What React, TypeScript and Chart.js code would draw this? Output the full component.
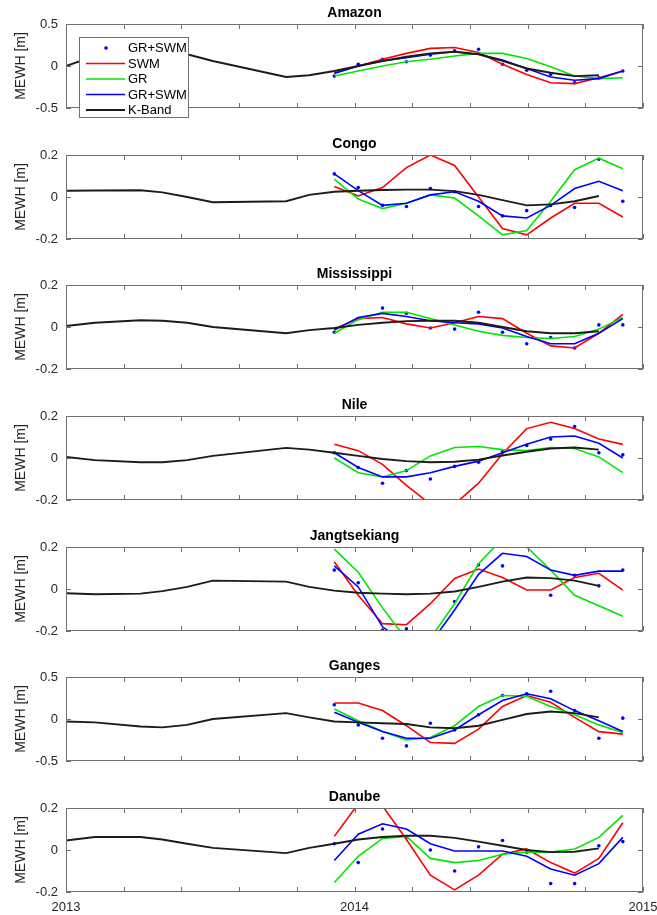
import React, { useEffect, useRef } from 'react';
import { Chart, registerables } from 'chart.js';

Chart.register(...registerables);

// ---------- shared axes data ----------
const T_MONTHLY = [2013.930, 2014.013, 2014.097, 2014.180, 2014.263, 2014.347, 2014.430, 2014.513, 2014.597, 2014.680, 2014.763, 2014.847, 2014.930];
const T_KBAND = [2013.0, 2013.1, 2013.258, 2013.334, 2013.42, 2013.509, 2013.763, 2013.843, 2013.930, 2014.013, 2014.097, 2014.180, 2014.263, 2014.347, 2014.430, 2014.513, 2014.597, 2014.680, 2014.763, 2014.847];
const X_TICKS = [2013, 2013.2, 2013.4, 2013.6, 2013.8, 2014, 2014.2, 2014.4, 2014.6, 2014.8, 2015];
const X_LABELS = [2013, 2014, 2015];
const BASINS = ['Amazon', 'Congo', 'Mississippi', 'Nile', 'Jangtsekiang', 'Ganges', 'Danube'];
const Y_LIMITS = [0.5, 0.2, 0.2, 0.2, 0.2, 0.5, 0.2];
const SERIES_NAMES = ['GR+SWM', 'SWM', 'GR', 'GR+SWM', 'K-Band'];
const Y_TITLE = 'MEWH [m]';

// ---------- Amazon ----------
const AMAZON_DOTS = [-0.12, 0.02, 0.08, 0.05, 0.13, 0.18, 0.2, 0.02, -0.05, -0.1, -0.2, -0.14, -0.06];
const AMAZON_SWM = [-0.08, 0.0, 0.08, 0.15, 0.21, 0.22, 0.16, 0.02, -0.1, -0.2, -0.21, -0.14, -0.06];
const AMAZON_GR = [-0.12, -0.06, 0.0, 0.05, 0.08, 0.12, 0.15, 0.15, 0.09, -0.01, -0.12, -0.15, -0.14];
const AMAZON_GRSWM = [-0.09, 0.0, 0.06, 0.1, 0.14, 0.17, 0.14, 0.07, -0.03, -0.13, -0.17, -0.15, -0.06];
const AMAZON_KBAND = [0.0, 0.12, 0.19, 0.18, 0.14, 0.06, -0.13, -0.11, -0.06, 0.0, 0.06, 0.11, 0.15, 0.17, 0.14, 0.06, -0.03, -0.08, -0.12, -0.11];

// ---------- Congo ----------
const CONGO_DOTS = [0.11, 0.045, -0.04, -0.045, 0.04, 0.025, -0.045, -0.09, -0.065, -0.04, -0.05, 0.18, -0.02];
const CONGO_SWM = [0.05, 0.005, 0.045, 0.14, 0.2, 0.15, 0.0, -0.15, -0.18, -0.1, -0.03, -0.03, -0.095];
const CONGO_GR = [0.085, -0.01, -0.055, -0.03, 0.01, -0.005, -0.09, -0.18, -0.16, -0.02, 0.13, 0.185, 0.135];
const CONGO_GRSWM = [0.11, 0.03, -0.04, -0.03, 0.01, 0.025, -0.02, -0.09, -0.1, -0.04, 0.04, 0.075, 0.03];
const CONGO_KBAND = [0.03, 0.031, 0.032, 0.022, 0.0, -0.025, -0.02, 0.01, 0.025, 0.03, 0.033, 0.035, 0.035, 0.028, 0.01, -0.015, -0.04, -0.035, -0.02, 0.005];

// ---------- Mississippi ----------
const MISSISSIPPI_DOTS = [-0.025, 0.04, 0.09, 0.065, -0.005, -0.01, 0.07, -0.025, -0.08, -0.05, -0.1, 0.01, 0.01];
const MISSISSIPPI_SWM = [-0.01, 0.04, 0.045, 0.015, -0.005, 0.02, 0.05, 0.04, -0.03, -0.09, -0.1, -0.03, 0.06];
const MISSISSIPPI_GR = [-0.03, 0.035, 0.07, 0.07, 0.04, 0.01, -0.02, -0.04, -0.05, -0.055, -0.045, -0.01, 0.045];
const MISSISSIPPI_GRSWM = [-0.015, 0.045, 0.065, 0.05, 0.03, 0.02, 0.015, -0.005, -0.045, -0.08, -0.08, -0.03, 0.04];
const MISSISSIPPI_KBAND = [0.005, 0.02, 0.032, 0.03, 0.02, 0.0, -0.03, -0.015, -0.005, 0.01, 0.02, 0.028, 0.03, 0.03, 0.02, 0.0, -0.02, -0.03, -0.03, -0.02];

// ---------- Nile ----------
const NILE_DOTS = [0.025, -0.045, -0.12, -0.06, -0.1, -0.04, -0.02, 0.03, 0.06, 0.09, 0.15, 0.025, 0.015];
const NILE_SWM = [0.065, 0.035, -0.03, -0.13, -0.22, -0.22, -0.12, 0.02, 0.14, 0.17, 0.14, 0.09, 0.065];
const NILE_GR = [0.0, -0.07, -0.09, -0.06, 0.01, 0.05, 0.055, 0.04, 0.035, 0.05, 0.045, 0.005, -0.07];
const NILE_GRSWM = [0.025, -0.045, -0.09, -0.09, -0.07, -0.04, -0.015, 0.025, 0.065, 0.1, 0.105, 0.07, 0.0];
const NILE_KBAND = [0.005, -0.01, -0.02, -0.02, -0.01, 0.01, 0.048, 0.04, 0.025, 0.01, -0.005, -0.015, -0.02, -0.018, -0.008, 0.012, 0.03, 0.045, 0.05, 0.04];

// ---------- Jangtsekiang ----------
const JANGTSEKIANG_DOTS = [0.09, 0.03, -0.195, -0.19, -0.3, -0.06, 0.115, 0.11, 0.22, -0.03, 0.065, 0.015, 0.09];
const JANGTSEKIANG_SWM = [0.13, -0.03, -0.165, -0.17, -0.07, 0.05, 0.095, 0.055, -0.005, -0.005, 0.055, 0.075, -0.005];
const JANGTSEKIANG_GR = [0.19, 0.08, -0.09, -0.24, -0.235, -0.07, 0.12, 0.24, 0.2, 0.09, -0.03, -0.08, -0.13];
const JANGTSEKIANG_GRSWM = [0.11, 0.01, -0.18, -0.26, -0.26, -0.1, 0.07, 0.17, 0.155, 0.09, 0.065, 0.085, 0.085];
const JANGTSEKIANG_KBAND = [-0.02, -0.025, -0.022, -0.01, 0.01, 0.04, 0.035, 0.01, -0.008, -0.018, -0.022, -0.025, -0.022, -0.012, 0.01, 0.035, 0.055, 0.052, 0.04, 0.015];

// ---------- Ganges ----------
const GANGES_DOTS = [0.17, -0.07, -0.23, -0.32, -0.05, -0.13, 0.05, 0.28, 0.3, 0.33, 0.1, -0.23, 0.01];
const GANGES_SWM = [0.19, 0.19, 0.1, -0.08, -0.28, -0.29, -0.12, 0.15, 0.28, 0.2, 0.02, -0.15, -0.18];
const GANGES_GR = [0.12, -0.02, -0.15, -0.25, -0.22, -0.08, 0.15, 0.28, 0.27, 0.15, 0.05, -0.07, -0.16];
const GANGES_GRSWM = [0.08, -0.04, -0.15, -0.23, -0.23, -0.13, 0.05, 0.22, 0.3, 0.24, 0.1, -0.02, -0.15];
const GANGES_KBAND = [-0.03, -0.04, -0.09, -0.1, -0.07, 0.0, 0.07, 0.02, -0.03, -0.04, -0.05, -0.06, -0.1, -0.11, -0.08, -0.01, 0.06, 0.09, 0.07, 0.02];

// ---------- Danube ----------
const DANUBE_DOTS = [0.03, -0.06, 0.1, 0.06, 0.0, -0.1, 0.015, 0.045, -0.01, -0.16, -0.16, 0.02, 0.04];
const DANUBE_SWM = [0.065, 0.22, 0.21, 0.05, -0.12, -0.19, -0.12, -0.02, 0.005, -0.06, -0.11, -0.04, 0.13];
const DANUBE_GR = [-0.155, -0.03, 0.055, 0.065, -0.04, -0.06, -0.05, -0.02, -0.01, -0.01, 0.005, 0.06, 0.165];
const DANUBE_GRSWM = [-0.05, 0.075, 0.125, 0.1, 0.03, -0.005, -0.005, -0.005, -0.03, -0.09, -0.12, -0.065, 0.06];
const DANUBE_KBAND = [0.045, 0.062, 0.062, 0.05, 0.03, 0.01, -0.015, 0.01, 0.03, 0.05, 0.062, 0.068, 0.068, 0.058, 0.04, 0.02, 0.0, -0.01, -0.008, 0.008];

const PANEL_SERIES = [
  [AMAZON_DOTS, AMAZON_SWM, AMAZON_GR, AMAZON_GRSWM, AMAZON_KBAND],
  [CONGO_DOTS, CONGO_SWM, CONGO_GR, CONGO_GRSWM, CONGO_KBAND],
  [MISSISSIPPI_DOTS, MISSISSIPPI_SWM, MISSISSIPPI_GR, MISSISSIPPI_GRSWM, MISSISSIPPI_KBAND],
  [NILE_DOTS, NILE_SWM, NILE_GR, NILE_GRSWM, NILE_KBAND],
  [JANGTSEKIANG_DOTS, JANGTSEKIANG_SWM, JANGTSEKIANG_GR, JANGTSEKIANG_GRSWM, JANGTSEKIANG_KBAND],
  [GANGES_DOTS, GANGES_SWM, GANGES_GR, GANGES_GRSWM, GANGES_KBAND],
  [DANUBE_DOTS, DANUBE_SWM, DANUBE_GR, DANUBE_GRSWM, DANUBE_KBAND],
];

// ---------- styling / layout ----------
const CANVAS_TOPS = [0, 131, 261, 392, 523, 653, 784];
const CANVAS_W = 657;
const CANVAS_H = 130;
const FONT = '"Liberation Sans", Arial, Helvetica, sans-serif';
const FRAME = '#707070';
const C_RED = '#ff0000';
const C_GREEN = '#00e600';
const C_BLUE = '#0000ff';
const C_BLACK = '#1c1c1c';

const pts = (t: number[], v: number[]) => v.map((y, i) => ({ x: t[i], y }));

const framePlugin = {
  id: 'matlabFrame',
  afterDatasetsDraw(chart: any) {
    const { ctx, chartArea: a, scales } = chart;
    const xs = scales.x;
    const ys = scales.y;
    ctx.save();
    ctx.strokeStyle = FRAME;
    ctx.lineWidth = 1;
    ctx.beginPath();
    ctx.rect(a.left + 0.5, a.top + 0.5, a.right - a.left - 1, a.bottom - a.top - 1);
    const tl = 5;
    X_TICKS.forEach((v) => {
      const px = Math.round(xs.getPixelForValue(v)) + 0.5;
      ctx.moveTo(px, a.bottom);
      ctx.lineTo(px, a.bottom - tl);
      ctx.moveTo(px, a.top);
      ctx.lineTo(px, a.top + tl);
    });
    ys.ticks.forEach((t: any) => {
      const py = Math.round(ys.getPixelForValue(t.value)) + 0.5;
      ctx.moveTo(a.left, py);
      ctx.lineTo(a.left + tl, py);
      ctx.moveTo(a.right, py);
      ctx.lineTo(a.right - tl, py);
    });
    ctx.stroke();
    ctx.restore();
  },
};

const legendPlugin = {
  id: 'matlabLegend',
  afterDraw(chart: any, _args: any, opts: any) {
    if (!opts || !opts.show) return;
    const { ctx } = chart;
    const left = 79.5, top = 37.5, w = 109, h = 80;
    ctx.save();
    ctx.fillStyle = '#ffffff';
    ctx.strokeStyle = FRAME;
    ctx.lineWidth = 1;
    ctx.fillRect(left, top, w, h);
    ctx.strokeRect(left, top, w, h);
    ctx.font = `13px ${FONT}`;
    ctx.textBaseline = 'middle';
    ctx.textAlign = 'left';
    chart.data.datasets.forEach((ds: any, i: number) => {
      const y = top + 10.5 + i * 15.5;
      if (ds.showLine === false) {
        ctx.fillStyle = ds.backgroundColor;
        ctx.beginPath();
        ctx.arc(106, y, 1.8, 0, Math.PI * 2);
        ctx.fill();
      } else {
        ctx.strokeStyle = ds.borderColor;
        ctx.lineWidth = ds.borderWidth;
        ctx.beginPath();
        ctx.moveTo(86, y);
        ctx.lineTo(125, y);
        ctx.stroke();
      }
      ctx.fillStyle = '#000000';
      ctx.fillText(ds.label, 128, y + 0.5);
    });
    ctx.restore();
  },
};

function Panel({ idx }: { idx: number }) {
  const ref = useRef<HTMLCanvasElement>(null);
  useEffect(() => {
    if (!ref.current) return;
    const [dots, swm, gr, grswm, kband] = PANEL_SERIES[idx];
    const lim = Y_LIMITS[idx];
    const isLast = idx === BASINS.length - 1;
    const chart = new Chart(ref.current, {
      type: 'line',
      data: {
        datasets: [
          { label: SERIES_NAMES[0], data: pts(T_MONTHLY, dots), showLine: false, pointRadius: 1.8, pointBackgroundColor: C_BLUE, backgroundColor: C_BLUE, pointBorderWidth: 0, borderColor: C_BLUE, order: 5 },
          { label: SERIES_NAMES[1], data: pts(T_MONTHLY, swm), borderColor: C_RED, borderWidth: 1.6, pointRadius: 0, order: 4 },
          { label: SERIES_NAMES[2], data: pts(T_MONTHLY, gr), borderColor: C_GREEN, borderWidth: 1.6, pointRadius: 0, order: 3 },
          { label: SERIES_NAMES[3], data: pts(T_MONTHLY, grswm), borderColor: C_BLUE, borderWidth: 1.6, pointRadius: 0, order: 2 },
          { label: SERIES_NAMES[4], data: pts(T_KBAND, kband), borderColor: C_BLACK, borderWidth: 1.9, pointRadius: 0, order: 1 },
        ] as any,
      },
      options: {
        animation: false,
        responsive: false,
        maintainAspectRatio: false,
        layout: { padding: { left: 0, right: 14, top: 0, bottom: 0 } },
        elements: { line: { tension: 0 } },
        plugins: {
          legend: { display: false },
          tooltip: { enabled: false },
          title: {
            display: true,
            text: BASINS[idx],
            fullSize: false,
            color: '#000000',
            font: { family: FONT, size: 14, weight: 'bold' },
            padding: { top: 5, bottom: 2.2 },
          },
          matlabLegend: { show: idx === 0 },
        } as any,
        scales: {
          x: {
            type: 'linear',
            min: 2013,
            max: 2015,
            grid: { display: false, drawTicks: false },
            border: { display: false },
            afterBuildTicks: (s: any) => { s.ticks = X_TICKS.map((v) => ({ value: v })); },
            afterFit: (s: any) => { s.height = 22; s.paddingLeft = 0; s.paddingRight = 0; },
            ticks: {
              display: isLast,
              autoSkip: false,
              maxRotation: 0,
              padding: 8,
              color: '#262626',
              font: { family: FONT, size: 13 },
              callback: (v: any) => (X_LABELS.includes(Math.round(v * 1000) / 1000) ? String(Math.round(v)) : ''),
            },
          },
          y: {
            type: 'linear',
            min: -lim,
            max: lim,
            grid: { display: false, drawTicks: false },
            border: { display: false },
            afterBuildTicks: (s: any) => { s.ticks = [-lim, 0, lim].map((v) => ({ value: v })); },
            afterFit: (s: any) => { s.width = 66; s.paddingTop = 0; s.paddingBottom = 0; },
            title: {
              display: true,
              text: Y_TITLE,
              color: '#262626',
              font: { family: FONT, size: 14 },
              padding: { top: 13, bottom: 0 },
            },
            ticks: {
              padding: 8,
              color: '#262626',
              font: { family: FONT, size: 13 },
              callback: (v: any) => (v === 0 ? '0' : String(v)),
            },
          },
        },
      } as any,
      plugins: [framePlugin, legendPlugin],
    });
    return () => chart.destroy();
  }, [idx]);
  return (
    <canvas
      ref={ref}
      width={CANVAS_W}
      height={CANVAS_H}
      style={{ position: 'absolute', left: 0, top: CANVAS_TOPS[idx], width: CANVAS_W, height: CANVAS_H, display: 'block' }}
    />
  );
}

export default function App() {
  return (
    <div style={{ position: 'absolute', left: 0, top: 0, width: 657, height: 915, background: '#ffffff' }}>
      {BASINS.map((b, i) => (
        <Panel key={b} idx={i} />
      ))}
    </div>
  );
}
